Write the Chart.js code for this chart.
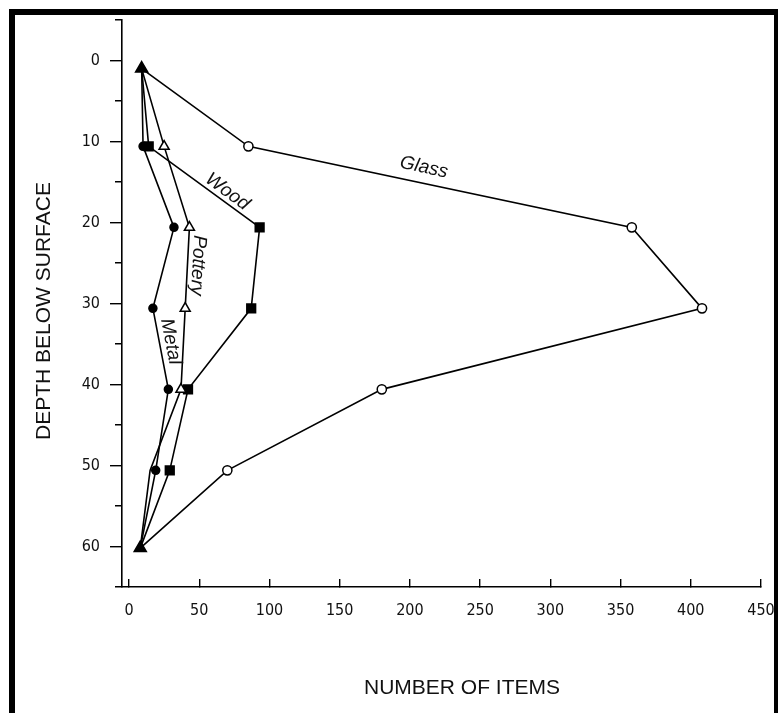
<!DOCTYPE html>
<html>
<head>
<meta charset="utf-8">
<script src="https://cdn.jsdelivr.net/npm/chart.js@4.4.1/dist/chart.umd.min.js"></script>
<style>
  html, body { margin: 0; padding: 0; background: #fff; }
  canvas { display: block; }
</style>
</head>
<body>
<canvas id="c" width="778" height="713"></canvas>
<script>
// Depth of each excavation level (shared by all four material series)
const depth = [1, 10.6, 20.6, 30.6, 40.6, 50.6, 60.2];

// Number of items recovered per level
const glass   = [9, 85, 358, 408, 180, 70, 8];
const wood    = [9, 14, 93, 87, 42, 29, 8];
const pottery = [9, 25, 43, 40, 37, 15, 8];
const metal   = [9, 10, 32, 17, 28, 19, 8];

// Axis ticks
const xTicks = [0, 50, 100, 150, 200, 250, 300, 350, 400, 450];
const yTicks = [-5, 0, 5, 10, 15, 20, 25, 30, 35, 40, 45, 50, 55, 60, 65];
const yTickLabels = [0, 10, 20, 30, 40, 50, 60];

// In-line series names: text, anchor (items, depth), and the segment they follow
const seriesLabels = [
  { text: 'Glass',   series: 3, x: 210, y: 13.2, seg: [1, 2] },
  { text: 'Wood',    series: 2, x: 70,  y: 16.2, seg: [1, 2] },
  { text: 'Pottery', series: 0, x: 49,  y: 25.3, seg: [2, 3] },
  { text: 'Metal',   series: 1, x: 29.6, y: 34.7, seg: [3, 4] }
];

const TICK_FONT = "'Liberation Sans Narrow', 'DejaVu Sans Condensed', 'Liberation Sans', sans-serif";
const TEXT_FONT = "'Liberation Sans', Arial, sans-serif";

const pts = vals => vals.map((v, i) => ({ x: v, y: depth[i] }));
const isEnd = (i, n) => i === 0 || i === n - 1;

const framePlugin = {
  id: 'frame',
  beforeDraw(chart) {
    const ctx = chart.ctx;
    ctx.save();
    ctx.fillStyle = '#fff';
    ctx.fillRect(0, 0, chart.width, chart.height);
    ctx.restore();
  },
  afterDraw(chart) {
    const ctx = chart.ctx;
    ctx.save();
    ctx.strokeStyle = '#000';
    ctx.lineWidth = 6;
    ctx.strokeRect(12, 12, 765, 760);

    // axis titles
    ctx.fillStyle = '#111';
    ctx.font = '21px ' + TEXT_FONT;
    ctx.textAlign = 'center';
    ctx.textBaseline = 'middle';
    ctx.fillText('NUMBER OF ITEMS', 462, 688);
    ctx.translate(44, 311);
    ctx.rotate(-Math.PI / 2);
    ctx.fillText('DEPTH BELOW SURFACE', 0, 0);
    ctx.restore();
  }
};

const labelPlugin = {
  id: 'seriesLabels',
  afterDatasetsDraw(chart) {
    const ctx = chart.ctx;
    const xs = chart.scales.x, ys = chart.scales.y;
    ctx.save();
    ctx.fillStyle = '#111';
    ctx.font = 'italic 19px ' + TEXT_FONT;
    ctx.textAlign = 'center';
    ctx.textBaseline = 'middle';
    seriesLabels.forEach(l => {
      const data = chart.data.datasets[l.series].data;
      const a = data[l.seg[0]], b = data[l.seg[1]];
      const ang = Math.atan2(ys.getPixelForValue(b.y) - ys.getPixelForValue(a.y),
                             xs.getPixelForValue(b.x) - xs.getPixelForValue(a.x));
      ctx.save();
      ctx.translate(xs.getPixelForValue(l.x), ys.getPixelForValue(l.y));
      ctx.rotate(ang);
      ctx.fillText(l.text, 0, 0);
      ctx.restore();
    });
    ctx.restore();
  }
};

const common = {
  borderColor: '#000',
  borderWidth: 1.6,
  showLine: true,
  fill: false,
  tension: 0,
  pointBorderColor: '#000',
  pointBorderWidth: 1.5,
  pointHoverRadius: 0
};

new Chart(document.getElementById('c'), {
  type: 'scatter',
  data: {
    datasets: [
      Object.assign({}, common, {
        label: 'Pottery', data: pts(pottery),
        pointStyle: 'triangle',
        pointRadius: pottery.map((v, i) => i === 5 ? 0 : isEnd(i, pottery.length) ? 7 : 5.8),
        pointBackgroundColor: pottery.map((v, i) => isEnd(i, pottery.length) ? '#000' : '#fff')
      }),
      Object.assign({}, common, {
        label: 'Metal', data: pts(metal),
        pointStyle: 'circle', pointBackgroundColor: '#000',
        pointRadius: metal.map((v, i) => isEnd(i, metal.length) ? 0 : 4)
      }),
      Object.assign({}, common, {
        label: 'Wood', data: pts(wood),
        pointStyle: 'rect', pointBackgroundColor: '#000',
        pointRadius: wood.map((v, i) => isEnd(i, wood.length) ? 0 : 6.2)
      }),
      Object.assign({}, common, {
        label: 'Glass', data: pts(glass),
        pointStyle: 'circle', pointBackgroundColor: '#fff',
        pointRadius: glass.map((v, i) => isEnd(i, glass.length) ? 0 : 4.6)
      })
    ]
  },
  options: {
    responsive: false,
    animation: false,
    devicePixelRatio: 1,
    layout: { padding: { left: 0, top: 20, right: 0, bottom: 0 } },
    plugins: { legend: { display: false }, tooltip: { enabled: false } },
    scales: {
      x: {
        type: 'linear',
        min: -5, max: 450,
        afterBuildTicks: s => { s.ticks = xTicks.map(v => ({ value: v })); },
        afterFit: s => { s.height = 126; s.paddingRight = 17; },
        border: { display: true, color: '#000', width: 1.6 },
        grid: { drawOnChartArea: false, drawTicks: true, tickLength: -8, color: '#000', lineWidth: 1.4 },
        ticks: {
          color: '#111', padding: 22,
          font: { family: TICK_FONT, size: 16 },
          maxRotation: 0, autoSkip: false,
          callback: v => String(v)
        }
      },
      y: {
        type: 'linear',
        reverse: true,
        min: -5, max: 65,
        afterBuildTicks: s => { s.ticks = yTicks.map(v => ({ value: v })); },
        afterFit: s => { s.width = 122; },
        border: { display: true, color: '#000', width: 1.6 },
        grid: {
          drawOnChartArea: false, drawTicks: true, tickLength: 12, color: '#000', lineWidth: 1.4,
          tickBorderDash: ctx => yTickLabels.includes(ctx.tick.value) ? [] : [0, 5, 50]
        },
        ticks: {
          color: '#111', padding: 10,
          font: { family: TICK_FONT, size: 16 },
          autoSkip: false,
          callback: v => yTickLabels.includes(v) ? String(v) : ''
        }
      }
    }
  },
  plugins: [framePlugin, labelPlugin]
});
</script>
</body>
</html>
